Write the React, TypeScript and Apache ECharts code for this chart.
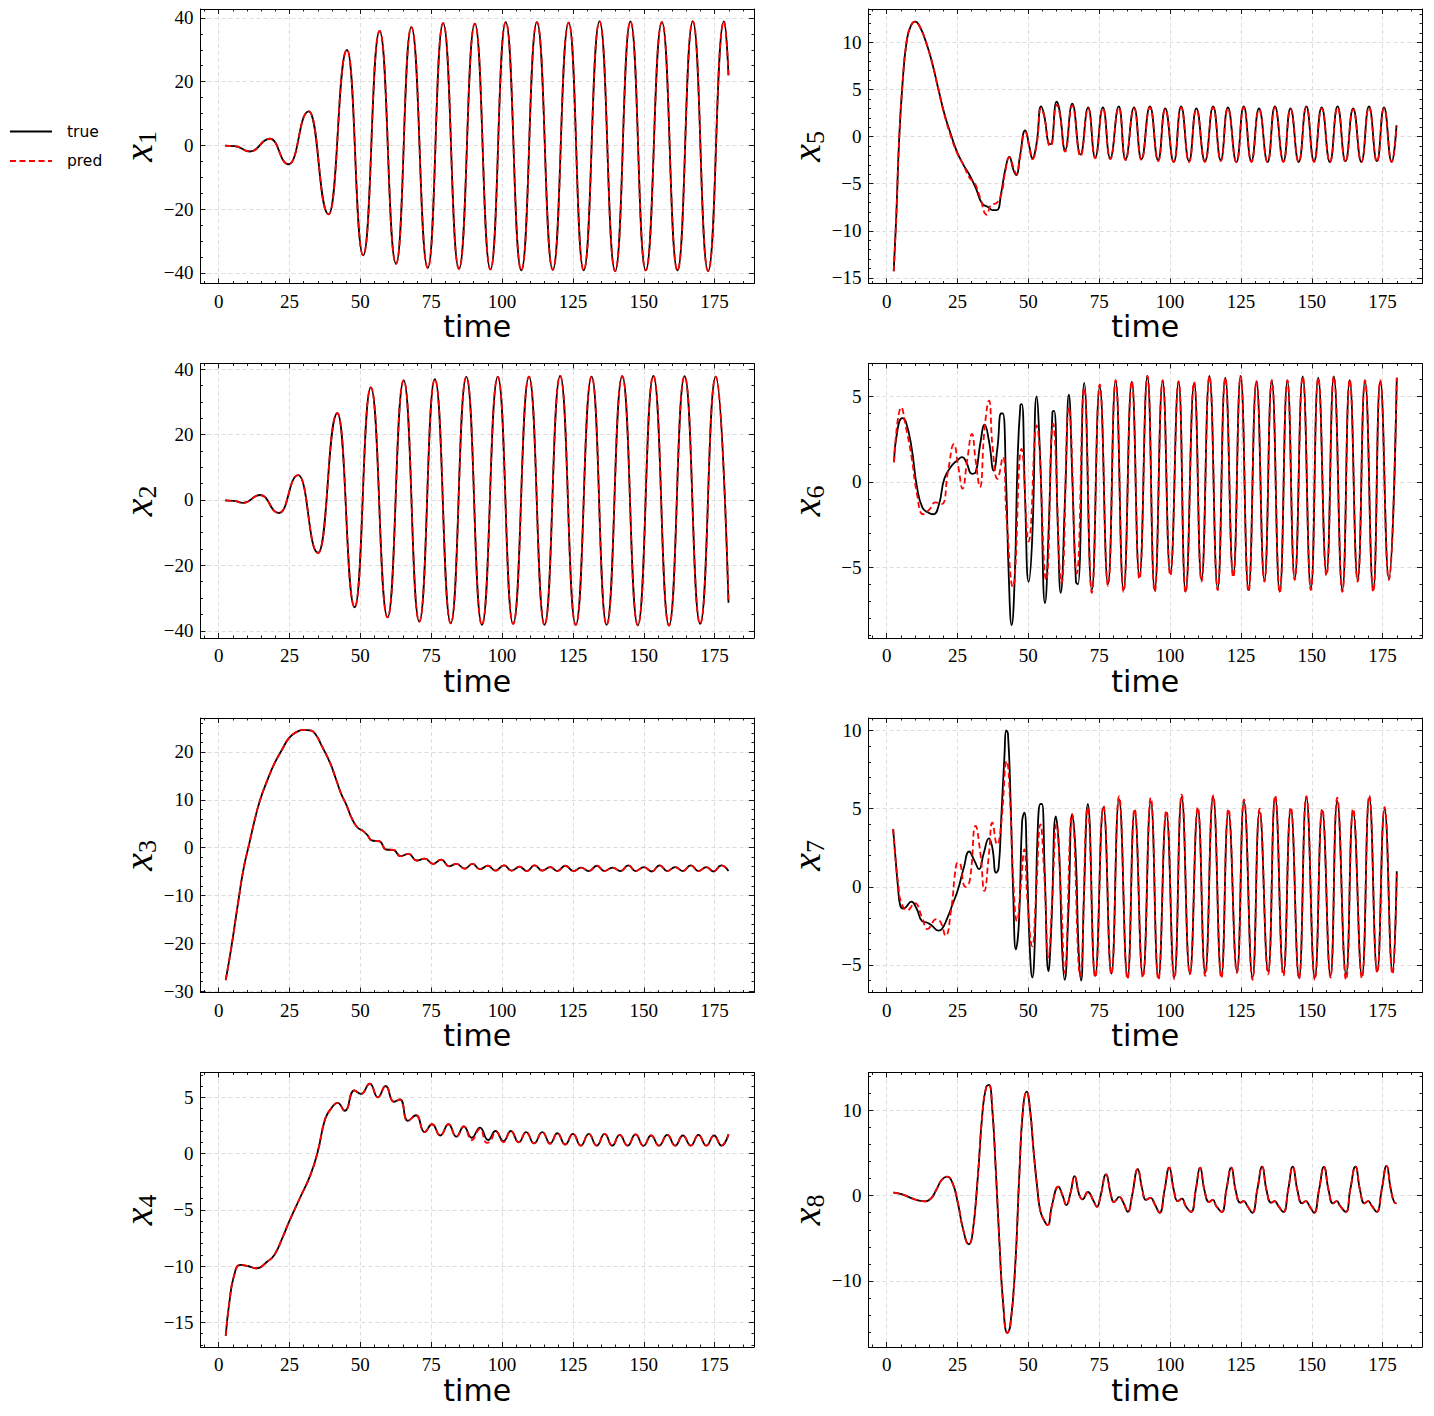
import React, { useEffect, useRef } from "react";
import * as echarts from "echarts";

// ---------- tick labels ----------
const timeTicks = [0, 25, 50, 75, 100, 125, 150, 175];
const yTicks1 = [-40, -20, 0, 20, 40];
const yTicks2 = [-40, -20, 0, 20, 40];
const yTicks3 = [-30, -20, -10, 0, 10, 20];
const yTicks4 = [-15, -10, -5, 0, 5];
const yTicks5 = [-15, -10, -5, 0, 5, 10];
const yTicks6 = [-5, 0, 5];
const yTicks7 = [-5, 0, 5, 10];
const yTicks8 = [-10, 0, 10];

const seriesNames = ["true", "pred"];

// ---------- series values [time, value] ----------
const x1True = [[2.3,-0.05],[5.5,-0.2],[11.1,-1.9],[18.1,2.1],[24.7,-5.9],[31.8,10.7],[38.8,-21.6],[45.3,30.0],[51.0,-34.5],[56.8,35.9],[62.6,-37.1],[68.0,37.1],[73.8,-38.4],[79.2,38.4],[84.8,-38.7],[90.4,38.2],[95.9,-38.9],[101.3,38.7],[106.8,-39.2],[112.3,38.7],[117.9,-39.0],[123.5,38.5],[128.8,-39.2],[134.4,38.9],[139.9,-39.4],[145.3,38.9],[150.7,-39.2],[156.4,38.7],[161.9,-39.2],[167.3,38.9],[172.7,-39.4],[178.3,38.9],[179.9,22.0]];
const x1Pred = x1True;

const x2True = [[2.3,-0.15],[5.2,-0.3],[8.7,-0.9],[14.7,1.5],[21.3,-4.0],[28.1,7.6],[35.1,-16.2],[41.9,26.5],[48.0,-32.8],[53.7,34.4],[59.6,-35.9],[65.3,36.5],[70.8,-37.2],[76.3,36.9],[81.9,-37.7],[87.4,37.6],[92.9,-38.2],[98.5,37.6],[103.9,-37.9],[109.5,37.7],[115.0,-38.2],[120.5,37.9],[126.0,-38.2],[131.6,37.7],[136.9,-38.2],[142.4,37.8],[147.9,-38.3],[153.4,37.9],[158.9,-38.4],[164.4,37.8],[169.9,-37.9],[175.4,37.7],[179.9,-31.4]];
const x2Pred = x2True;

const x3True = [[2.5,-27.7],[4.5,-20.8],[7.0,-11.0],[8.9,-4.1],[10.8,0.8],[12.7,5.7],[14.6,9.9],[17.2,14.1],[19.7,17.6],[22.3,20.4],[24.8,22.9],[27.3,24.1],[29.9,24.6],[32.4,24.5],[34.3,23.6],[36.2,21.5],[39.4,17.6],[41.3,14.5],[43.2,11.3],[45.1,8.9],[47.0,6.1],[49.0,4.2],[50.9,3.5],[52.5,2.6],[54.0,1.5],[56.8,1.3],[59.1,-0.4],[61.7,-0.5],[64.2,-1.8],[67.0,-1.3],[69.9,-2.7],[72.7,-2.3],[75.7,-3.4],[78.5,-2.5],[81.4,-3.9],[83.9,-3.4],[86.8,-4.4],[89.6,-3.4],[92.2,-4.5],[95.0,-3.8],[97.7,-4.8],[100.7,-3.7],[103.4,-4.8],[106.2,-4.0],[108.7,-4.9],[111.5,-3.7],[114.2,-4.8],[117.0,-4.1],[119.5,-4.9],[122.3,-3.8],[125.3,-4.9],[127.9,-4.2],[130.6,-4.9],[133.5,-3.8],[136.1,-4.9],[139.0,-4.2],[141.8,-4.9],[144.6,-3.7],[147.1,-4.9],[150.1,-4.1],[152.8,-5.0],[155.6,-3.7],[158.3,-4.9],[161.1,-4.1],[163.8,-4.9],[166.6,-3.7],[169.3,-4.9],[172.1,-4.1],[174.6,-5.0],[177.4,-3.7],[179.9,-4.9]];
const x3Pred = x3True;

const x4True = [[2.5,-16.2],[3.8,-13.2],[5.5,-10.8],[7.6,-9.9],[10.2,-10.0],[13.4,-10.2],[17.2,-9.6],[19.7,-9.0],[22.5,-7.5],[24.8,-6.1],[28.6,-4.0],[32.4,-1.9],[35.0,0.2],[37.5,3.0],[39.4,3.9],[42.0,4.5],[44.5,3.8],[47.9,5.6],[50.2,5.3],[53.3,6.2],[56.2,5.0],[58.9,6.0],[61.9,4.6],[64.0,4.8],[66.8,2.9],[69.6,3.4],[72.7,1.9],[75.3,2.6],[78.2,1.6],[81.1,2.6],[83.9,1.5],[86.5,2.4],[89.3,1.4],[92.2,2.3],[95.1,1.2],[97.7,2.0],[100.5,1.1],[103.1,2.0],[105.9,1.0],[108.5,1.9],[111.3,0.9],[114.2,1.9],[117.0,0.9],[119.5,1.8],[122.3,0.8],[125.0,1.75],[127.8,0.7],[130.6,1.75],[133.4,0.7],[136.2,1.75],[138.9,0.7],[141.5,1.65],[144.3,0.7],[147.1,1.7],[149.9,0.68],[152.6,1.6],[155.4,0.7],[158.3,1.65],[161.1,0.7],[163.8,1.6],[166.6,0.7],[169.3,1.65],[172.1,0.7],[174.8,1.6],[177.4,0.7],[179.9,1.7]];
const x4Pred = [[2.5,-16.2],[3.8,-13.2],[5.5,-10.8],[7.6,-9.9],[10.2,-10.0],[13.4,-10.2],[17.2,-9.6],[19.7,-9.0],[22.5,-7.5],[24.8,-6.1],[28.6,-4.0],[32.4,-1.9],[35.0,0.2],[37.5,3.0],[39.4,3.9],[42.0,4.5],[44.5,3.8],[47.9,5.6],[50.2,5.3],[53.3,6.2],[56.2,5.0],[58.9,6.0],[61.9,4.6],[64.0,4.8],[66.8,2.9],[69.6,3.4],[72.7,1.9],[75.3,2.6],[78.2,1.6],[81.1,2.6],[83.9,1.5],[86.5,2.4],[89.3,1.2],[92.2,2.2],[94.6,0.95],[95.7,1.05],[97.9,1.95],[100.5,1.0],[103.1,2.0],[105.9,1.0],[108.5,1.9],[111.3,0.9],[114.2,1.9],[117.0,0.85],[119.5,1.8],[122.3,0.8],[125.0,1.75],[127.8,0.7],[130.6,1.75],[133.4,0.7],[136.2,1.75],[138.9,0.7],[141.5,1.65],[144.3,0.7],[147.1,1.7],[149.9,0.68],[152.6,1.6],[155.4,0.7],[158.3,1.65],[161.1,0.7],[163.8,1.6],[166.6,0.7],[169.3,1.65],[172.1,0.7],[174.8,1.6],[177.4,0.7],[179.9,1.7]];

const x5True = [[2.5,-14.3],[3.4,-8.5],[4.4,-0.4],[5.6,5.6],[7.1,10.2],[8.6,11.8],[10.1,12.2],[11.5,11.8],[13.7,10.2],[16.0,7.9],[18.2,5.1],[20.4,2.4],[22.6,0.3],[24.8,-1.6],[27.1,-3.0],[29.3,-4.1],[31.5,-5.5],[33.7,-7.1],[35.9,-7.5],[37.4,-7.8],[38.9,-7.8],[40.4,-6.0],[41.8,-3.6],[43.3,-2.15],[44.8,-3.6],[45.8,-4.1],[47.0,-2.15],[48.9,0.67],[50.4,-1.1],[51.4,-2.3],[52.9,-0.74],[54.5,3.2],[55.7,2.1],[57.2,-0.74],[57.9,-0.8],[60.0,3.7],[61.0,2.8],[63.0,-1.4],[65.5,3.5],[68.4,-1.9],[71.1,3.1],[73.6,-2.2],[76.3,3.1],[78.9,-2.3],[81.9,3.2],[84.3,-2.4],[87.3,3.1],[89.9,-2.4],[92.9,3.2],[95.8,-2.5],[98.3,3.0],[101.3,-2.7],[103.9,3.2],[106.7,-2.6],[109.3,3.0],[112.3,-2.6],[115.2,3.2],[117.9,-2.5],[120.4,3.1],[123.4,-2.7],[126.0,3.2],[128.7,-2.6],[131.4,3.0],[134.4,-2.7],[137.0,3.2],[140.0,-2.6],[142.5,3.0],[145.4,-2.7],[148.1,3.2],[150.8,-2.6],[153.5,3.1],[156.4,-2.7],[159.1,3.2],[161.9,-2.6],[164.6,3.0],[167.5,-2.7],[170.2,3.2],[173.0,-2.6],[175.5,3.1],[178.2,-2.7],[179.9,1.2]];
const x5Pred = [[2.5,-14.3],[3.4,-8.5],[4.4,-0.4],[5.6,5.6],[7.1,10.2],[8.6,11.8],[10.1,12.2],[11.5,11.8],[13.7,10.2],[16.0,7.9],[18.2,5.1],[20.4,2.3],[22.6,0.1],[24.8,-1.7],[27.1,-3.0],[29.3,-4.4],[31.0,-4.9],[33.0,-6.5],[35.3,-8.3],[37.0,-7.2],[38.5,-7.1],[40.4,-6.2],[41.8,-3.8],[43.3,-2.2],[44.8,-3.3],[45.8,-4.0],[47.0,-2.3],[48.9,0.5],[50.4,-1.2],[51.4,-2.4],[52.9,-0.9],[54.5,3.0],[55.7,2.0],[57.2,-0.9],[57.9,-1.0],[60.0,3.4],[61.0,2.6],[63.0,-1.6],[65.5,3.3],[68.4,-2.1],[71.1,3.0],[73.6,-2.3],[76.3,3.0],[78.9,-2.4],[81.9,3.1],[84.3,-2.5],[87.3,3.0],[89.9,-2.5],[92.9,3.1],[95.8,-2.6],[98.3,2.9],[101.3,-2.7],[103.9,3.1],[106.7,-2.7],[109.3,2.9],[112.3,-2.7],[115.2,3.1],[117.9,-2.6],[120.4,3.0],[123.4,-2.7],[126.0,3.1],[128.7,-2.7],[131.4,2.9],[134.4,-2.7],[137.0,3.1],[140.0,-2.7],[142.5,2.9],[145.4,-2.7],[148.1,3.1],[150.8,-2.7],[153.5,3.0],[156.4,-2.7],[159.1,3.1],[161.9,-2.7],[164.6,2.9],[167.5,-2.7],[170.2,3.1],[173.0,-2.7],[175.5,3.0],[178.2,-2.7],[179.9,1.1]];

const x6True = [[2.6,1.15],[3.6,2.8],[5.5,3.73],[6.8,3.5],[8.8,2.0],[10.7,-0.3],[12.6,-1.5],[14.6,-1.8],[16.5,-1.9],[18.5,-1.3],[20.4,0.2],[23.0,0.95],[24.9,1.25],[26.6,1.45],[28.1,1.15],[30.1,0.47],[31.4,0.56],[33.0,2.2],[34.6,3.35],[36.1,2.4],[37.8,0.66],[39.1,2.0],[40.4,4.0],[41.0,4.0],[42.1,0.27],[43.1,-5.56],[44.1,-8.4],[45.2,-5.56],[46.2,1.25],[47.2,4.5],[47.7,4.55],[48.8,-0.7],[50.1,-5.86],[51.4,-3.2],[52.9,5.0],[54.2,1.25],[55.9,-7.1],[57.2,-2.65],[58.5,4.07],[59.1,4.16],[60.4,-2.65],[61.4,-6.5],[63.0,-0.7],[64.3,5.1],[65.5,0.27],[66.8,-5.86],[67.5,-6.0],[69.7,5.8],[72.4,-6.34],[75.2,5.56],[78.1,-6.0],[80.8,5.9],[83.6,-6.34],[86.5,5.87],[89.2,-5.56],[92.0,6.2],[94.6,-6.34],[97.4,5.9],[100.1,-5.37],[103.0,5.87],[105.5,-6.44],[108.5,5.8],[111.1,-5.76],[113.9,6.2],[116.8,-6.25],[119.5,6.1],[122.3,-5.47],[124.9,6.2],[127.7,-6.34],[130.5,5.87],[133.3,-5.76],[135.9,5.9],[138.7,-6.44],[141.4,5.9],[144.0,-5.66],[146.8,6.17],[149.7,-6.25],[152.3,6.1],[155.2,-5.37],[157.8,6.17],[160.8,-6.34],[163.4,5.95],[166.2,-5.76],[168.8,5.9],[171.7,-6.34],[174.2,5.9],[177.2,-5.66],[180.0,6.1]];
const x6Pred = [[2.6,1.15],[5.2,4.36],[6.8,3.2],[8.8,1.45],[10.7,-0.7],[12.9,-1.9],[15.2,-1.6],[17.2,-1.2],[19.4,-1.3],[21.7,0.66],[23.7,2.2],[25.3,0.86],[26.8,-0.4],[28.4,1.25],[30.1,2.8],[31.4,1.25],[32.9,-0.3],[34.6,3.2],[36.1,4.75],[37.4,2.0],[39.1,0.17],[41.0,1.45],[42.3,-2.1],[44.5,-6.15],[47.6,1.93],[50.1,-3.5],[52.9,3.3],[56.3,-5.76],[58.7,3.4],[61.7,-5.95],[64.3,4.36],[67.1,-5.37],[69.7,5.5],[72.4,-6.5],[75.2,5.7],[78.1,-6.1],[80.8,5.95],[83.6,-6.45],[86.5,5.9],[89.2,-5.7],[92.0,6.2],[94.6,-6.45],[97.4,5.95],[100.1,-5.5],[103.0,5.9],[105.5,-6.5],[108.5,5.85],[111.1,-5.85],[113.9,6.2],[116.8,-6.35],[119.5,6.1],[122.3,-5.6],[124.9,6.2],[127.7,-6.45],[130.5,5.9],[133.3,-5.85],[135.9,5.95],[138.7,-6.5],[141.4,5.95],[144.0,-5.75],[146.8,6.17],[149.7,-6.35],[152.3,6.1],[155.2,-5.5],[157.8,6.17],[160.8,-6.45],[163.4,6.0],[166.2,-5.85],[168.8,5.95],[171.7,-6.45],[174.2,5.95],[177.2,-5.75],[180.0,6.1]];

const x7True = [[2.3,3.7],[3.3,1.45],[4.0,0],[4.8,-1.2],[5.9,-1.4],[6.8,-1.3],[8.7,-0.95],[10.6,-1.4],[12.5,-2.2],[14.4,-2.3],[16.1,-2.5],[18.2,-2.8],[19.5,-2.7],[21.4,-2.0],[23.3,-1.1],[25.2,-0.15],[27.2,1.2],[29.1,2.26],[31.0,1.66],[32.6,1.13],[34.2,2.1],[36.1,3.1],[37.3,2.5],[38.6,0.9],[39.5,1.2],[40.5,4.6],[41.6,8.5],[42.2,10.0],[42.8,9.8],[43.7,5.7],[44.7,-0.7],[45.6,-4.0],[46.7,-2.2],[47.8,4.2],[48.6,4.75],[49.5,1.45],[50.5,-3.9],[51.4,-5.8],[52.3,-3.45],[53.3,3.6],[54.3,5.3],[54.8,5.3],[55.8,0.8],[57.1,-5.4],[58.1,-2.6],[59.7,4.5],[60.9,2.1],[61.9,-3.9],[62.8,-5.95],[64.1,-1.75],[65.5,4.65],[66.7,2.1],[67.7,-3.9],[68.6,-6.0],[69.6,-0.7],[71.0,5.3],[73.6,-5.7],[76.5,5.1],[79.3,-5.55],[82.0,5.6],[85.0,-5.8],[87.5,4.85],[90.4,-5.7],[93.2,5.45],[95.9,-5.85],[98.7,4.7],[101.5,-5.8],[104.1,5.75],[107.0,-5.55],[109.8,4.95],[112.4,-5.5],[115.2,5.75],[118.1,-5.7],[120.6,4.8],[123.6,-5.4],[126.1,5.45],[129.1,-5.8],[131.6,4.8],[134.6,-5.4],[137.1,5.7],[140.0,-5.5],[142.6,4.95],[145.5,-5.8],[148.1,5.7],[151.1,-5.8],[153.7,4.85],[156.6,-5.7],[159.0,5.5],[162.1,-5.6],[164.6,4.8],[167.7,-5.7],[170.3,5.7],[173.1,-5.4],[175.7,4.95],[178.5,-5.4],[180.0,1.0]];
const x7Pred = [[2.3,3.7],[3.3,1.45],[4.2,0],[4.8,-0.8],[7.4,-1.49],[9.9,-1.04],[12.5,-1.96],[14.4,-2.7],[17.6,-2.07],[19.1,-2.28],[20.8,-3.13],[22.7,-1.54],[24.6,1.45],[25.5,1.56],[27.8,0],[29.3,0.38],[31.4,3.9],[33.1,2.1],[34.5,-0.26],[36.1,2.1],[37.3,4.1],[39.0,2.7],[40.3,3.8],[42.4,8.05],[43.5,5.7],[44.7,0.4],[46.0,-2.2],[47.3,0],[48.6,2.4],[49.7,-0.9],[51.4,-3.8],[52.6,-0.9],[54.3,4.0],[55.6,0.8],[57.1,-4.5],[58.4,-0.9],[59.9,4.0],[61.6,-0.9],[62.8,-5.5],[65.4,4.65],[68.3,-5.7],[70.9,5.07],[73.6,-5.8],[76.5,5.2],[79.3,-5.6],[82.0,5.8],[85.0,-5.9],[87.5,5.0],[90.4,-5.8],[93.2,5.7],[95.9,-5.95],[98.7,4.9],[101.5,-5.9],[104.1,5.9],[107.0,-5.6],[109.8,5.1],[112.4,-5.7],[115.2,5.85],[118.1,-5.85],[120.6,5.0],[123.6,-5.5],[126.1,5.6],[129.1,-5.95],[131.6,5.0],[134.6,-5.6],[137.1,5.85],[140.0,-5.7],[142.6,5.1],[145.5,-5.9],[148.1,5.8],[151.1,-5.95],[153.7,5.0],[156.6,-5.8],[159.0,5.7],[162.1,-5.95],[164.6,5.0],[167.7,-5.85],[170.3,5.85],[173.1,-5.5],[175.7,5.1],[178.5,-5.6],[180.0,0.8]];

const x8True = [[2.4,0.35],[4.1,0.27],[6.0,0.1],[8.5,-0.25],[11.1,-0.55],[13.6,-0.67],[15.6,-0.35],[17.5,0.67],[19.4,1.84],[21.3,2.23],[23.2,1.53],[25.1,-0.8],[27.0,-3.95],[29.0,-5.7],[30.2,-4.7],[32.1,1.9],[33.8,9.7],[35.1,12.7],[36.1,13.0],[37.2,10.5],[38.5,3.1],[39.8,-5.5],[41.1,-12.6],[42.6,-16.1],[43.6,-15.3],[45.3,-8.65],[46.8,2.3],[48.1,10.1],[49.4,12.2],[50.6,10.1],[51.9,5.05],[53.2,0.74],[54.1,-1.6],[55.1,-2.6],[56.8,-3.45],[58.3,-1.2],[60.6,1.05],[62.1,0],[63.4,-1.1],[64.9,0.35],[66.3,2.3],[67.9,0.15],[69.1,-0.43],[71.0,0.43],[73.0,-0.63],[74.2,-1.3],[75.5,0],[77.4,2.5],[79.1,0.15],[80.2,-0.75],[82.1,-0.15],[83.5,-0.8],[85.1,-1.9],[86.6,0],[88.6,3.1],[90.2,0.74],[91.5,-0.5],[93.1,-0.25],[94.6,-1.0],[96.3,-2.0],[98.1,0.74],[99.7,3.3],[101.4,0.55],[102.7,-0.63],[104.2,-0.35],[105.5,-1.2],[107.4,-1.9],[109.1,0.74],[110.6,3.3],[112.2,0.55],[113.8,-0.74],[115.1,-0.5],[116.3,-1.2],[118.2,-1.9],[119.9,0.74],[121.6,3.3],[123.2,0.55],[124.8,-0.82],[126.0,-0.63],[127.3,-1.2],[129.0,-2.0],[130.8,0.74],[132.5,3.4],[134.1,0.55],[135.7,-0.82],[136.9,-0.63],[138.2,-1.2],[140.0,-1.9],[141.7,0.74],[143.3,3.4],[145.0,0.55],[146.6,-0.9],[147.9,-0.63],[149.2,-1.2],[150.8,-2.0],[152.6,0.74],[154.3,3.37],[156.0,0.55],[157.5,-0.9],[158.8,-0.63],[160.0,-1.2],[162.0,-1.9],[163.6,0.74],[165.4,3.4],[167.1,0.55],[168.6,-0.9],[169.9,-0.63],[171.2,-1.2],[172.9,-1.9],[174.7,0.74],[176.4,3.5],[177.9,0.74],[179.2,-0.82],[179.9,-0.9]];
const x8Pred = x8True;

// ---------- layout ----------
const T_MIN = -6.4;
const T_MAX = 188.9;
const PLOT_W = 553.5;
const PLOT_H = 274.5;
const COL_LEFT = [200.5, 868.5];
const ROW_TOP = [9, 363.5, 718, 1072.5];

const panels = [
  { sub: "1", tr: x1True, pr: x1Pred, yMin: -43.3, yMax: 42.8, ticks: yTicks1, minor: 5, col: 0, row: 0, mono: true },
  { sub: "2", tr: x2True, pr: x2Pred, yMin: -42.2, yMax: 41.7, ticks: yTicks2, minor: 5, col: 0, row: 1, mono: true },
  { sub: "3", tr: x3True, pr: x3Pred, yMin: -30.3, yMax: 27.1, ticks: yTicks3, minor: 2, col: 0, row: 2, mono: false },
  { sub: "4", tr: x4True, pr: x4Pred, yMin: -17.2, yMax: 7.2, ticks: yTicks4, minor: 1, col: 0, row: 3, mono: false },
  { sub: "5", tr: x5True, pr: x5Pred, yMin: -15.6, yMax: 13.55, ticks: yTicks5, minor: 1, col: 1, row: 0, mono: false },
  { sub: "6", tr: x6True, pr: x6Pred, yMin: -9.15, yMax: 6.93, ticks: yTicks6, minor: 1, col: 1, row: 1, mono: false },
  { sub: "7", tr: x7True, pr: x7Pred, yMin: -6.76, yMax: 10.8, ticks: yTicks7, minor: 1, col: 1, row: 2, mono: false },
  { sub: "8", tr: x8True, pr: x8Pred, yMin: -17.75, yMax: 14.45, ticks: yTicks8, minor: 2, col: 1, row: 3, mono: false },
];

function minorValues(min: number, max: number, step: number, majors: number[]) {
  const out: number[] = [];
  const start = Math.ceil(min / step) * step;
  for (let v = start; v <= max + 1e-9; v += step) {
    const r = Math.round(v * 1000) / 1000;
    if (!majors.some((m) => Math.abs(m - r) < 1e-6)) out.push(r);
  }
  return out;
}

const fmt = (v: number) => (v < 0 ? "\u2212" + Math.abs(v) : String(v));
const BLACK = "#000000";
const gridLine = { show: true, lineStyle: { color: "#d4d4d4", width: 0.8, type: [4, 3] } };
const labelFont = { color: BLACK, fontFamily: "Liberation Serif", fontSize: 19 };

function buildOption() {
  const grid: any[] = [];
  const xAxis: any[] = [];
  const yAxis: any[] = [];
  const series: any[] = [];
  const graphic: any[] = [];
  const xMinor = minorValues(T_MIN, T_MAX, 5, timeTicks);

  panels.forEach((p, gi) => {
    const left = COL_LEFT[p.col];
    const top = ROW_TOP[p.row];
    grid.push({ left, top, width: PLOT_W, height: PLOT_H, containLabel: false });
    const yMinor = minorValues(p.yMin, p.yMax, p.minor, p.ticks);

    const mkX = (position: string, major: boolean, main: boolean) => ({
      type: "value",
      gridIndex: gi,
      position,
      min: T_MIN,
      max: T_MAX,
      axisLine: { show: major, onZero: false, lineStyle: { color: BLACK, width: 1 } },
      axisTick: {
        show: true,
        inside: true,
        length: major ? 5 : 2.5,
        customValues: major ? timeTicks : xMinor,
        lineStyle: { color: BLACK, width: 0.9 },
      },
      axisLabel: main
        ? { show: true, customValues: timeTicks, formatter: fmt, margin: 8, ...labelFont }
        : { show: false },
      splitLine: main ? gridLine : { show: false },
      minorTick: { show: false },
      axisPointer: { show: false },
    });
    const mkY = (position: string, major: boolean, main: boolean) => ({
      type: "value",
      gridIndex: gi,
      position,
      min: p.yMin,
      max: p.yMax,
      axisLine: { show: major, onZero: false, lineStyle: { color: BLACK, width: 1 } },
      axisTick: {
        show: true,
        inside: true,
        length: major ? 5 : 2.5,
        customValues: major ? p.ticks : yMinor,
        lineStyle: { color: BLACK, width: 0.9 },
      },
      axisLabel: main
        ? { show: true, customValues: p.ticks, formatter: fmt, margin: 7, ...labelFont }
        : { show: false },
      splitLine: main ? gridLine : { show: false },
      minorTick: { show: false },
      axisPointer: { show: false },
    });

    const xi = xAxis.length;
    xAxis.push(mkX("bottom", true, true), mkX("bottom", false, false), mkX("top", true, false), mkX("top", false, false));
    const yi = yAxis.length;
    yAxis.push(mkY("left", true, true), mkY("left", false, false), mkY("right", true, false), mkY("right", false, false));

    const smoothOpts: any = p.mono ? { smooth: 0.5, smoothMonotone: "x" } : { smooth: true };
    series.push({
      name: seriesNames[0],
      type: "line",
      xAxisIndex: xi,
      yAxisIndex: yi,
      data: p.tr,
      showSymbol: false,
      symbol: "none",
      ...smoothOpts,
      lineStyle: { color: BLACK, width: 1.8 },
      z: 3,
      silent: true,
    });
    series.push({
      name: seriesNames[1],
      type: "line",
      xAxisIndex: xi,
      yAxisIndex: yi,
      data: p.pr,
      showSymbol: false,
      symbol: "none",
      ...smoothOpts,
      lineStyle: { color: "#ff0000", width: 1.8, type: [6, 3.5] },
      z: 4,
      silent: true,
    });

    // axis titles
    graphic.push({
      type: "text",
      x: left + PLOT_W / 2,
      y: top + PLOT_H + 43,
      silent: true,
      style: {
        text: "time",
        fill: BLACK,
        fontFamily: "DejaVu Sans",
        fontSize: 30,
        align: "center",
        verticalAlign: "middle",
      },
    });
    graphic.push({
      type: "text",
      x: left - 62,
      y: top + PLOT_H / 2,
      rotation: Math.PI / 2,
      silent: true,
      style: {
        text: "{x|x}{s|" + p.sub + "}",
        fill: BLACK,
        align: "center",
        verticalAlign: "middle",
        rich: {
          x: { fontFamily: "Liberation Serif", fontStyle: "italic", fontSize: 40, lineHeight: 44, fill: BLACK },
          s: { fontFamily: "Liberation Serif", fontSize: 26, lineHeight: 26, verticalAlign: "bottom", fill: BLACK },
        },
      },
    });
  });

  // legend
  graphic.push({ type: "line", silent: true, shape: { x1: 10, y1: 131.5, x2: 52, y2: 131.5 }, style: { stroke: BLACK, lineWidth: 1.8 } });
  graphic.push({ type: "line", silent: true, shape: { x1: 10, y1: 161, x2: 52, y2: 161 }, style: { stroke: "#ff0000", lineWidth: 1.8, lineDash: [6, 3.5] } });
  graphic.push({ type: "text", silent: true, x: 67, y: 132, style: { text: seriesNames[0], fill: BLACK, fontFamily: "DejaVu Sans", fontSize: 15.5, verticalAlign: "middle" } });
  graphic.push({ type: "text", silent: true, x: 67, y: 161, style: { text: seriesNames[1], fill: BLACK, fontFamily: "DejaVu Sans", fontSize: 15.5, verticalAlign: "middle" } });

  return {
    animation: false,
    backgroundColor: "#ffffff",
    grid,
    xAxis,
    yAxis,
    series,
    graphic,
  };
}

export default function App() {
  const ref = useRef<HTMLDivElement>(null);
  useEffect(() => {
    if (!ref.current) return;
    const chart = echarts.init(ref.current, undefined, { renderer: "svg" });
    chart.setOption(buildOption() as any);
    return () => chart.dispose();
  }, []);
  return (
    <div
      ref={ref}
      style={{ position: "absolute", left: 0, top: 0, width: 1434, height: 1416, background: "#fff" }}
    />
  );
}
